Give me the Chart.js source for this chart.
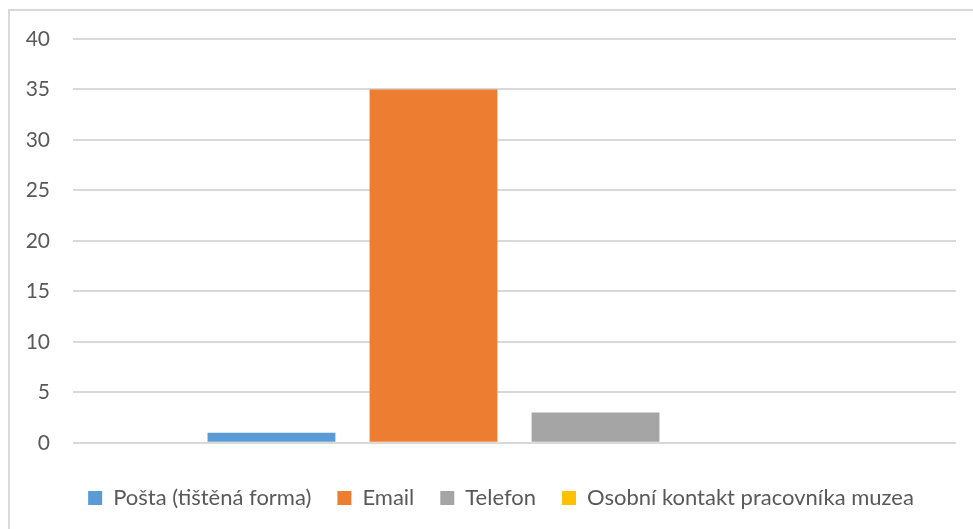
<!DOCTYPE html>
<html>
<head>
<meta charset="utf-8">
<script src="https://cdn.jsdelivr.net/npm/chart.js@4/dist/chart.umd.min.js"></script>
<style>
  html, body { margin: 0; padding: 0; background: #fff; }
  #wrap { position: relative; width: 973px; height: 529px; }
</style>
</head>
<body>
<div id="wrap"><canvas id="chart" width="973" height="529"></canvas></div>
<script>
// data
const categories = [''];
const seriesNames = ['Pošta (tištěná forma)', 'Email', 'Telefon', 'Osobní kontakt pracovníka muzea'];
const postaValues = [1];
const emailValues = [35];
const telefonValues = [3];
const osobniValues = [0];
const yTicks = [0, 5, 10, 15, 20, 25, 30, 35, 40];

const colors = ['#5b9bd5', '#ed7d31', '#a5a5a5', '#ffc000'];
const textColor = '#595959';
const fontFamily = 'Lato, "Open Sans", sans-serif';

// light frame on the left and top edge, like the original export
const framePlugin = {
  id: 'frame',
  beforeDraw(chart) {
    const ctx = chart.ctx;
    ctx.save();
    ctx.strokeStyle = '#d9d9d9';
    ctx.lineWidth = 2;
    ctx.beginPath();
    ctx.moveTo(9, 529);
    ctx.lineTo(9, 10);
    ctx.lineTo(973, 10);
    ctx.stroke();
    ctx.restore();
  },
  // legend sits a bit right of the plot centre in the original
  afterLayout(chart) {
    chart.legend.left += 23;
    chart.legend.right += 23;
  }
};

const allValues = [postaValues, emailValues, telefonValues, osobniValues];

new Chart(document.getElementById('chart'), {
  type: 'bar',
  data: {
    labels: categories,
    datasets: seriesNames.map((name, i) => ({
      label: name,
      data: allValues[i],
      backgroundColor: colors[i],
      borderWidth: 0,
      categoryPercentage: 0.734,
      barPercentage: 0.789
    }))
  },
  options: {
    responsive: false,
    animation: false,
    layout: { padding: { left: 0, right: 17, top: 39, bottom: 10 } },
    scales: {
      x: {
        display: false
      },
      y: {
        min: 0,
        max: 40,
        afterFit(scale) { scale.width = 73; },
        afterBuildTicks(scale) { scale.ticks = yTicks.map(v => ({ value: v })); },
        grid: { color: '#d9d9d9', lineWidth: 2, drawTicks: false },
        border: { display: false },
        ticks: {
          padding: 23,
          color: textColor,
          font: { family: fontFamily, size: 21 }
        }
      }
    },
    plugins: {
      tooltip: { enabled: false },
      legend: {
        position: 'bottom',
        title: { display: true, text: '', padding: { top: 17, bottom: 0 }, font: { size: 1 } },
        labels: {
          boxWidth: 14,
          boxHeight: 14,
          padding: 26,
          color: textColor,
          font: { family: fontFamily, size: 22 }
        }
      }
    }
  },
  plugins: [framePlugin]
});
</script>
</body>
</html>
